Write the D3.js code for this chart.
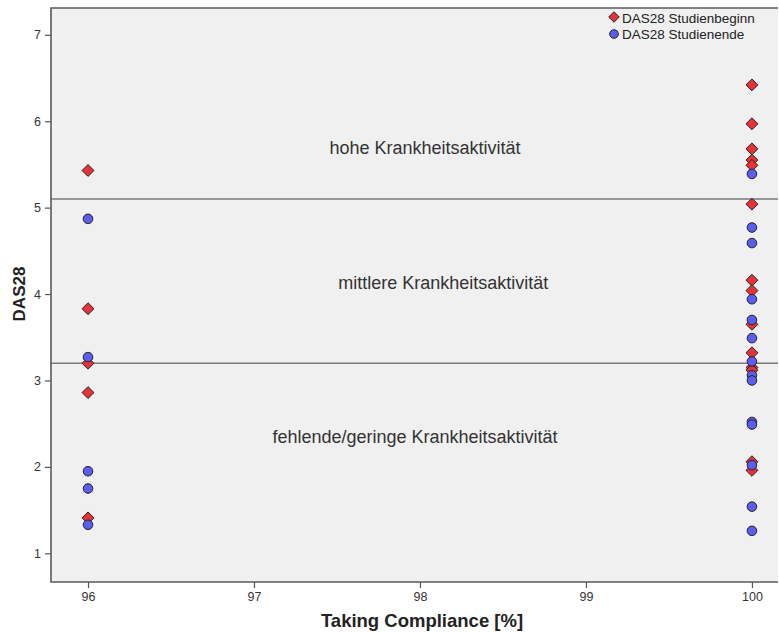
<!DOCTYPE html>
<html>
<head>
<meta charset="utf-8">
<script src="https://cdn.jsdelivr.net/npm/d3@7/dist/d3.min.js"></script>
<style>
  html, body { margin: 0; padding: 0; background: #fff; }
  svg { display: block; font-family: Arial, "Liberation Sans", sans-serif; }
</style>
</head>
<body>
<script>
// DAS28 scores by taking compliance, at study start and study end
const complianceBeginn = [96, 96, 96, 96, 96,
  100, 100, 100, 100, 100, 100, 100, 100, 100, 100, 100, 100, 100, 100];
const das28Beginn = [5.43, 3.83, 3.20, 2.86, 1.41,
  6.42, 5.97, 5.68, 5.55, 5.49, 5.04, 4.16, 4.04, 3.65, 3.32, 3.15, 3.12, 2.06, 1.96];

const complianceEnde = [96, 96, 96, 96, 96,
  100, 100, 100, 100, 100, 100, 100, 100, 100, 100, 100, 100, 100, 100];
const das28Ende = [4.87, 3.27, 1.95, 1.75, 1.33,
  5.39, 4.77, 4.59, 3.94, 3.70, 3.49, 3.22, 3.06, 3.00, 2.52, 2.49, 2.02, 1.54, 1.26];

// Activity thresholds and band labels (anchored in data coordinates)
const thresholds = [5.1, 3.2];
const bandLabels = ["hohe Krankheitsaktivität", "mittlere Krankheitsaktivität", "fehlende/geringe Krankheitsaktivität"];
const bandLabelX = [98.03, 98.14, 97.97];
const bandLabelY = [5.69, 4.13, 2.35];

const xTicks = [96, 97, 98, 99, 100];
const yTicks = [1, 2, 3, 4, 5, 6, 7];
const legendLabels = ["DAS28 Studienbeginn", "DAS28 Studienende"];

const W = 779, H = 632;
const plot = { left: 51, top: 8, right: 778, bottom: 582 };

const x = d3.scaleLinear().domain([95.777, 100.157]).range([plot.left, plot.right]);
const y = d3.scaleLinear().domain([0.668, 7.31]).range([plot.bottom, plot.top]);

const RED = "#e8323a", BLUE = "#5c5cf0";

const svg = d3.select("body").append("svg").attr("width", W).attr("height", H);

// plot background
svg.append("rect")
  .attr("x", plot.left).attr("y", plot.top)
  .attr("width", plot.right - plot.left).attr("height", plot.bottom - plot.top)
  .attr("fill", "#f0f0f0");

// threshold lines
svg.selectAll("line.thr").data(thresholds).join("line")
  .attr("class", "thr")
  .attr("x1", plot.left).attr("x2", plot.right)
  .attr("y1", d => y(d)).attr("y2", d => y(d))
  .attr("stroke", "#7a7a7a").attr("stroke-width", 1.5);

// band labels
svg.selectAll("text.band").data(bandLabels).join("text")
  .attr("class", "band")
  .attr("x", (d, i) => x(bandLabelX[i]))
  .attr("y", (d, i) => y(bandLabelY[i]))
  .attr("dy", "0.35em")
  .attr("text-anchor", "middle")
  .attr("font-size", 18)
  .attr("fill", "#333")
  .text(d => d);

// axes
const xAxis = d3.axisBottom(x).tickValues(xTicks).tickSize(6).tickPadding(4).tickFormat(d3.format("d"));
const yAxis = d3.axisLeft(y).tickValues(yTicks).tickSize(6).tickPadding(4).tickFormat(d3.format("d"));

const gx = svg.append("g").attr("transform", `translate(0,${plot.bottom})`).call(xAxis);
const gy = svg.append("g").attr("transform", `translate(${plot.left},0)`).call(yAxis);
[gx, gy].forEach(g => {
  g.select(".domain").remove();
  g.selectAll(".tick line").attr("stroke", "#555").attr("stroke-width", 1.2);
  g.selectAll(".tick text").attr("fill", "#333").attr("font-size", 12.5)
    .attr("font-family", "Arial, 'Liberation Sans', sans-serif");
});

// frame: left, top and bottom edges
svg.append("path")
  .attr("d", `M${plot.right},${plot.top}H${plot.left}V${plot.bottom}H${plot.right}`)
  .attr("fill", "none").attr("stroke", "#5a5a5a").attr("stroke-width", 1.6);

// axis titles
svg.append("text")
  .attr("x", 422).attr("y", 627)
  .attr("text-anchor", "middle").attr("font-size", 18.5).attr("font-weight", "bold")
  .attr("fill", "#222").text("Taking Compliance [%]");
svg.append("text")
  .attr("transform", `translate(25,294) rotate(-90)`)
  .attr("text-anchor", "middle").attr("font-size", 17).attr("font-weight", "bold")
  .attr("fill", "#222").text("DAS28");

// markers
const diamond = d3.symbol().type(d3.symbolDiamond2).size(90);
const beginn = complianceBeginn.map((c, i) => ({ c, v: das28Beginn[i] }));
const ende = complianceEnde.map((c, i) => ({ c, v: das28Ende[i] }));

svg.append("g").selectAll("path").data(beginn).join("path")
  .attr("d", diamond)
  .attr("transform", d => `translate(${x(d.c)},${y(d.v)})`)
  .attr("fill", RED).attr("stroke", "#222").attr("stroke-width", 1);

svg.append("g").selectAll("circle").data(ende).join("circle")
  .attr("cx", d => x(d.c)).attr("cy", d => y(d.v)).attr("r", 4.8)
  .attr("fill", BLUE).attr("stroke", "#222").attr("stroke-width", 1);

// legend
const lg = svg.append("g").attr("transform", "translate(614,0)");
lg.append("path").attr("d", d3.symbol().type(d3.symbolDiamond2).size(70))
  .attr("transform", "translate(0,17)")
  .attr("fill", RED).attr("stroke", "#222").attr("stroke-width", 1);
lg.append("circle").attr("cx", 0).attr("cy", 34).attr("r", 4.3)
  .attr("fill", BLUE).attr("stroke", "#222").attr("stroke-width", 1);
lg.selectAll("text").data(legendLabels).join("text")
  .attr("x", 8).attr("y", (d, i) => 18 + i * 16).attr("dy", "0.35em")
  .attr("font-size", 13.5).attr("fill", "#222").text(d => d);
</script>
</body>
</html>
